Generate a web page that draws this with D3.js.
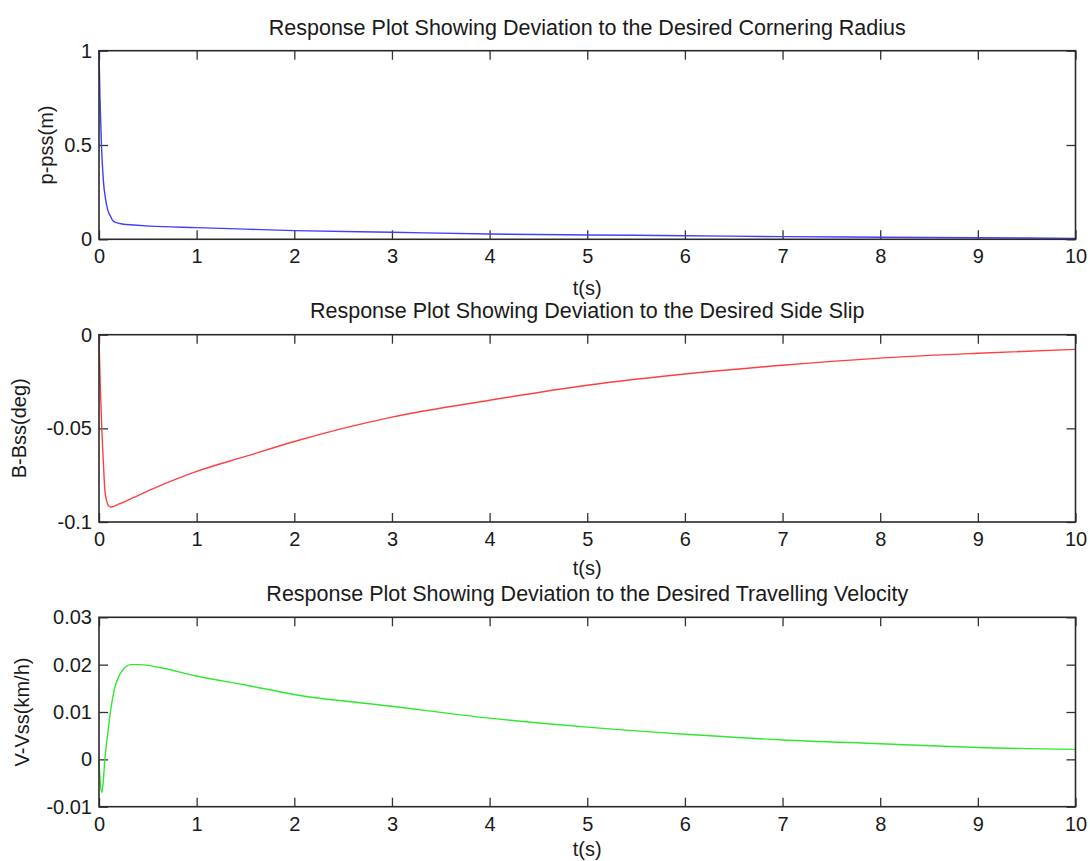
<!DOCTYPE html>
<html>
<head>
<meta charset="utf-8">
<script src="https://cdn.jsdelivr.net/npm/d3@7"></script>
<style>
  html, body { margin: 0; padding: 0; background: #ffffff; }
  svg { display: block; }
  .tick text { font-family: "Liberation Sans", Arial, sans-serif; font-size: 20px; fill: #1a1a1a; }
  .tick line { stroke: #333; stroke-width: 1.3; }
  .ttl { font-family: "Liberation Sans", Arial, sans-serif; font-size: 21.5px; fill: #1a1a1a; }
  .lbl { font-family: "Liberation Sans", Arial, sans-serif; font-size: 20px; fill: #1a1a1a; }
</style>
</head>
<body>
<svg id="fig" width="1090" height="861"></svg>
<script>
// Time-axis ticks shared by all three panels
const timeTicks = [0, 1, 2, 3, 4, 5, 6, 7, 8, 9, 10];

// Cornering radius deviation p - pss (m)
const radiusTime = [0, 0.01, 0.025, 0.045, 0.068, 0.09, 0.12, 0.14, 0.18, 0.25, 0.35, 0.52, 1, 1.5, 2, 3, 4, 5, 6, 7, 8, 9, 10];
const radiusDev  = [1, 0.75, 0.5, 0.31, 0.21, 0.155, 0.12, 0.10, 0.088, 0.08, 0.076, 0.07, 0.062, 0.054, 0.046, 0.037, 0.028, 0.023, 0.019, 0.014, 0.011, 0.008, 0.005];
const radiusTicks = [0, 0.5, 1];

// Side slip deviation B - Bss (deg)
const slipTime = [0, 0.005, 0.017, 0.03, 0.045, 0.06, 0.08, 0.1, 0.12, 0.2, 0.35, 0.52, 1, 1.5, 2, 3, 4, 5, 6, 7, 8, 9, 10];
const slipDev  = [0, -0.012, -0.033, -0.052, -0.0685, -0.083, -0.089, -0.0915, -0.092, -0.0905, -0.087, -0.083, -0.073, -0.065, -0.057, -0.044, -0.035, -0.027, -0.021, -0.0163, -0.0125, -0.0099, -0.0078];
const slipTicks = [-0.1, -0.05, 0];

// Travelling velocity deviation V - Vss (km/h)
const velTime = [0, 0.01, 0.027, 0.04, 0.06, 0.09, 0.12, 0.16, 0.2, 0.26, 0.32, 0.42, 0.62, 1, 1.5, 2, 3, 4, 5, 6, 7, 8, 9, 10];
const velDev  = [0, -0.004, -0.007, -0.0055, 0, 0.0055, 0.0104, 0.015, 0.0174, 0.0193, 0.02, 0.02, 0.0194, 0.0176, 0.0157, 0.0137, 0.0112, 0.0087, 0.0068, 0.0053, 0.0041, 0.0033, 0.0025, 0.0021];
const velTicks = [-0.01, 0, 0.01, 0.02, 0.03];

const panels = [
  { title: "Response Plot Showing Deviation to the Desired Cornering Radius", ylabel: "p-pss(m)",
    t: radiusTime, v: radiusDev, domain: [0, 1], ticks: radiusTicks,
    color: "#4040ff", top: 50.7, bottom: 239.3, titleY: 35, xlabY: 295, ylabX: 53 },
  { title: "Response Plot Showing Deviation to the Desired Side Slip", ylabel: "B-Bss(deg)",
    t: slipTime, v: slipDev, domain: [-0.1, 0], ticks: slipTicks,
    color: "#ff4040", top: 334.7, bottom: 522, titleY: 318, xlabY: 575, ylabX: 26 },
  { title: "Response Plot Showing Deviation to the Desired Travelling Velocity", ylabel: "V-Vss(km/h)",
    t: velTime, v: velDev, domain: [-0.01, 0.03], ticks: velTicks,
    color: "#30e830", top: 617.3, bottom: 806.7, titleY: 601, xlabY: 856, ylabX: 29 }
];

const svg = d3.select("#fig");
const left = 99, right = 1075.5;
const tickLen = 9;

const x = d3.scaleLinear().domain([0, 10]).range([left, right]);

panels.forEach(p => {
  const y = d3.scaleLinear().domain(p.domain).range([p.bottom, p.top]);
  const g = svg.append("g");

  // bottom axis with labels, ticks pointing inward
  const xb = g.append("g").attr("transform", `translate(0,${p.bottom})`)
    .call(d3.axisBottom(x).tickValues(timeTicks).tickFormat(d3.format("d")).tickSize(-tickLen).tickPadding(10));
  // top mirror ticks
  const xt = g.append("g").attr("transform", `translate(0,${p.top})`)
    .call(d3.axisTop(x).tickValues(timeTicks).tickFormat("").tickSize(-tickLen));
  // left axis with labels
  const yl = g.append("g").attr("transform", `translate(${left},0)`)
    .call(d3.axisLeft(y).tickValues(p.ticks).tickFormat(d => String(d)).tickSize(-tickLen).tickPadding(7));
  // right mirror ticks
  const yr = g.append("g").attr("transform", `translate(${right},0)`)
    .call(d3.axisRight(y).tickValues(p.ticks).tickFormat("").tickSize(-tickLen));
  [xb, xt, yl, yr].forEach(a => { a.select(".domain").remove(); a.attr("font-family", null).attr("font-size", null); });

  // data line
  const line = d3.line().x((d, i) => x(p.t[i])).y(d => y(d)).curve(d3.curveMonotoneX);
  g.append("path").datum(p.v)
    .attr("fill", "none").attr("stroke", p.color).attr("stroke-width", 1.4)
    .attr("d", line);

  // axes box
  g.append("rect").attr("x", left).attr("y", p.top)
    .attr("width", right - left).attr("height", p.bottom - p.top)
    .attr("fill", "none").attr("stroke", "#2a2a2a").attr("stroke-width", 1.6);

  // title
  g.append("text").attr("class", "ttl").attr("x", (left + right) / 2).attr("y", p.titleY)
    .attr("text-anchor", "middle").text(p.title);
  // x label
  g.append("text").attr("class", "lbl").attr("x", (left + right) / 2).attr("y", p.xlabY)
    .attr("text-anchor", "middle").text("t(s)");
  // y label
  g.append("text").attr("class", "lbl")
    .attr("transform", `translate(${p.ylabX},${(p.top + p.bottom) / 2}) rotate(-90)`)
    .attr("text-anchor", "middle").text(p.ylabel);
});
</script>
</body>
</html>
